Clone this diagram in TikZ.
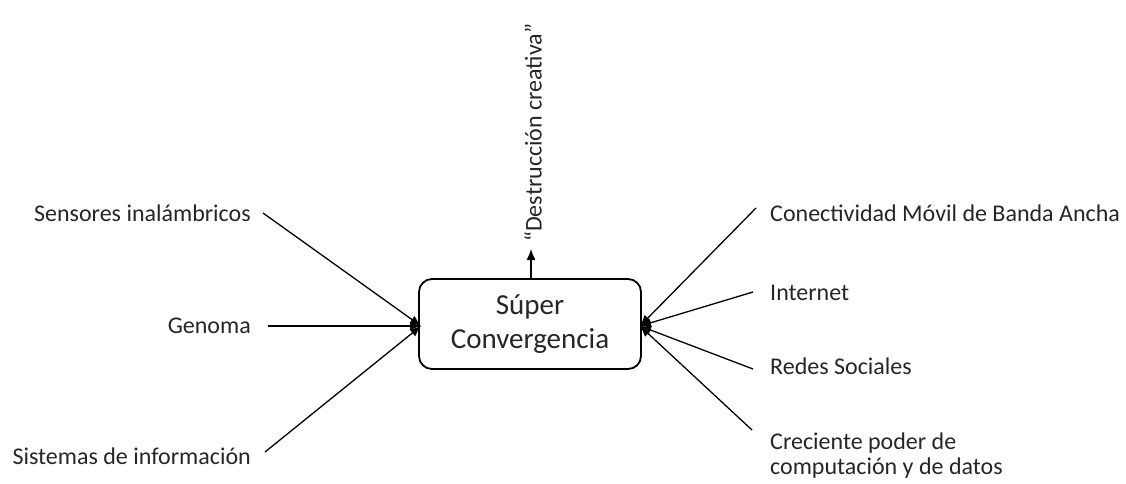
\documentclass[tikz,border=0pt]{standalone}
\usepackage{fontspec}
\setmainfont{Carlito}
\usetikzlibrary{arrows.meta}
\begin{document}
\begin{tikzpicture}[x=1pt,y=-1pt,
  lbl/.style={font=\fontsize{24}{29}\selectfont, inner sep=0pt, text=black!85},
  feed/.style={line width=1.3pt, -{Latex[length=11pt,width=9pt]}},
  core/.style={draw, line width=1.8pt, rounded corners=13pt, minimum width=222pt,
    minimum height=90pt, align=center, font=\fontsize{29}{34}\selectfont, text=black!85}]
\useasboundingbox (0,0) rectangle (1126,483);

% central box
\node[core] (sc) at (530,324) {Súper\\Convergencia};

% outgoing arrow with rotated label
\coordinate (top) at (531,249);
\draw[line width=1.3pt, -{Latex[length=11pt,width=9pt]}] (sc.north -| top) -- (top);
\node[lbl, rotate=90, anchor=west] (dc) at (533,242) {“Destrucción creativa”};

% convergence points on the box sides
\coordinate (L) at (421,326);
\coordinate (R) at (640,326);

% left inputs
\node[lbl, anchor=east] (sens) at (251,213) {Sensores inalámbricos};
\node[lbl, anchor=east] (gen) at (251,326) {Genoma};
\node[lbl, anchor=east] (sis) at (251,456) {Sistemas de información};
\coordinate (s1) at (263,213);
\coordinate (s2) at (268,326);
\coordinate (s3) at (265,452);
\draw[feed] (s1) -- (L);
\draw[feed] (s2) -- (L);
\draw[feed] (s3) -- (L);

% right inputs
\node[lbl, anchor=west] (con) at (770,213) {Conectividad Móvil de Banda Ancha};
\node[lbl, anchor=west] (int) at (770,293) {Internet};
\node[lbl, anchor=west] (red) at (770,366) {Redes Sociales};
\node[lbl, anchor=west, align=left, font=\fontsize{24}{25}\selectfont] (cre) at (770,456) {Creciente poder de\\computación y de datos};
\coordinate (r1) at (756,208);
\coordinate (r2) at (753,292);
\coordinate (r3) at (753,369);
\coordinate (r4) at (752,430);
\draw[feed] (r1) -- (R);
\draw[feed] (r2) -- (R);
\draw[feed] (r3) -- (R);
\draw[feed] (r4) -- (R);
\end{tikzpicture}
\end{document}
